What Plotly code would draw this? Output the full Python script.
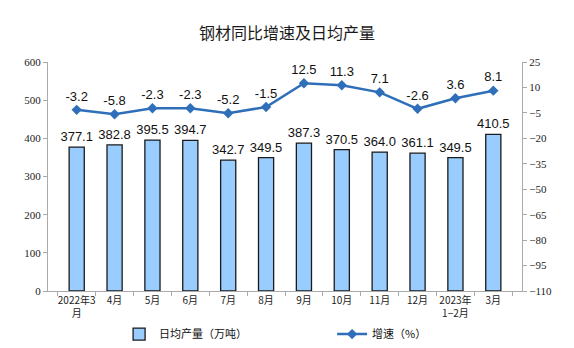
import plotly.graph_objects as go

categories = ["2022年3<br>月", "4月", "5月", "6月", "7月", "8月", "9月", "10月", "11月", "12月", "2023年<br>1−2月", "3月"]
output = [377.1, 382.8, 395.5, 394.7, 342.7, 349.5, 387.3, 370.5, 364.0, 361.1, 349.5, 410.5]
growth = [-3.2, -5.8, -2.3, -2.3, -5.2, -1.5, 12.5, 11.3, 7.1, -2.6, 3.6, 8.1]

fig = go.Figure()
fig.add_trace(go.Bar(
    x=categories, y=output, name="日均产量（万吨）",
    marker=dict(color="#99ccff", line=dict(color="#1a1a1a", width=1.3)),
    text=[f"{v:.1f}" for v in output], textposition="outside", constraintext="none",
    textfont=dict(family="Liberation Sans, Arial", size=13, color="#111"),
    cliponaxis=False,
))
fig.add_trace(go.Scatter(
    x=categories, y=growth, name="增速（%）", yaxis="y2",
    mode="lines+markers+text",
    line=dict(color="#2f6fba", width=2.5),
    marker=dict(symbol="diamond", size=8, color="#2f6fba"),
    text=[f"{v:.1f}" for v in growth], textposition="top center",
    textfont=dict(family="Liberation Sans, Arial", size=13, color="#111"),
    cliponaxis=False,
))

fig.update_layout(
    width=574, height=348,
    margin=dict(l=48, r=52, t=62, b=57, autoexpand=False),
    paper_bgcolor="white", plot_bgcolor="white",
    title=dict(text="钢材同比增速及日均产量", x=0.5, xanchor="center", yref="container",
               y=1 - 33 / 348, yanchor="middle",
               font=dict(family="Noto Sans CJK SC", size=16, color="#1a1a1a")),
    bargap=0.6,
    showlegend=True,
    legend=dict(orientation="h", x=0.15, xanchor="left", yref="container", y=0.04, yanchor="middle",
                font=dict(family="Noto Sans CJK SC", size=11, color="#111"),
                entrywidth=168, entrywidthmode="pixels", itemwidth=30,
                tracegroupgap=0),
    xaxis=dict(showline=True, linecolor="#aaaaaa", linewidth=1, ticks="outside", tickson="boundaries",
               tickcolor="#aaaaaa", ticklen=4, showgrid=False,
               tickfont=dict(family="Noto Sans CJK SC", size=10, color="#222"), tickangle=0),
    yaxis=dict(range=[0, 600], dtick=100, showline=True, linecolor="#aaaaaa", ticks="outside",
               tickcolor="#aaaaaa", ticklen=4, showgrid=False, zeroline=False,
               tickfont=dict(family="Liberation Serif, Times New Roman", size=11, color="#222")),
    yaxis2=dict(range=[-110, 25], dtick=15, tick0=-110, overlaying="y", side="right",
                showline=True, linecolor="#aaaaaa", ticks="outside", tickcolor="#aaaaaa", ticklen=4,
                showgrid=False, zeroline=False,
                tickfont=dict(family="Liberation Serif, Times New Roman", size=11, color="#222")),
)

fig.write_html("out.html")
